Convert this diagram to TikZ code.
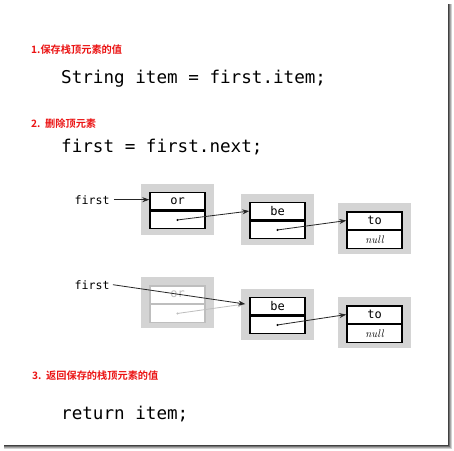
\documentclass[tikz,border=0pt]{standalone}
\usepackage{fontspec}
\setmonofont{DejaVu Sans Mono}
\newfontfamily\cjk{Noto Sans CJK SC Bold}
\usetikzlibrary{arrows.meta,calc}
\definecolor{boxgrey}{RGB}{212,212,212}
\definecolor{fadeline}{RGB}{190,190,190}
\definecolor{stepred}{RGB}{235,20,20}
\newcommand{\nulltxt}{{\rmfamily\itshape\fontsize{11}{12}\selectfont null}}
\tikzset{
  steplabel/.style={anchor=base west,inner sep=0pt,text=stepred,font=\cjk\fontsize{10.2}{12}\selectfont},
  codeline/.style={anchor=base west,inner sep=0pt,font=\ttfamily\fontsize{17.6}{20}\selectfont},
  varlabel/.style={anchor=base west,inner sep=0pt,font=\ttfamily\fontsize{11.6}{13}\selectfont},
  greybg/.style={fill=boxgrey,draw=none,minimum width=73pt,minimum height=51pt,inner sep=0pt},
  cellbox/.style={draw=black,line width=1.4pt,fill=white,minimum width=55pt,minimum height=17.5pt,inner sep=0pt,font=\ttfamily\fontsize{12}{14}\selectfont},
  fadecell/.style={cellbox,draw=fadeline,text=fadeline},
  ptr/.style={-{Stealth[length=7pt,width=5pt]},line width=0.8pt,black!85},
  fadeptr/.style={ptr,fadeline},
  dotmark/.style={circle,fill=black,inner sep=0pt,minimum size=2.4pt},
}
% \mklistnode{name}{cx}{cy}{text}{cellstyle}{lowertext}
\newcommand{\mklistnode}[6]{%
  \node[greybg] (#1-bg) at (#2,#3+-1.5) {};
  \node[#5,anchor=south] (#1-u) at (#2,#3) {#4};
  \node[#5,anchor=north] (#1-l) at (#2,#3) {#6};
  \coordinate (#1-d) at (#1-l.center);
}
\begin{document}
\begin{tikzpicture}[x=1pt,y=-1pt]
\useasboundingbox (0,0) rectangle (454,450);
\fill[white] (0,0) rectangle (454,450);
% frame shadow
\foreach \i/\c in {0/75,1/55,2/35,3/18}{
  \draw[black!\c,line width=1pt] (448.5+\i,4) -- (448.5+\i,446+\i);
  \draw[black!\c,line width=1pt] (4,445.5+\i) -- (448.5+\i,445.5+\i);
}
% texts
\node[steplabel] (s1) at (31,53) {1.保存栈顶元素的值};
\node[codeline] (c1) at (61,83) {String item = first.item;};
\node[steplabel] (s2) at (31,127) {2.\ \ 删除顶元素};
\node[codeline] (c2) at (61,152) {first = first.next;};
\node[steplabel] (s3) at (32,379) {3.\ \ 返回保存的栈顶元素的值};
\node[codeline] (c3) at (61,419) {return item;};
% top row
\mklistnode{a1}{177.5}{210.5}{or}{cellbox}{}
\mklistnode{b1}{277.5}{220.5}{be}{cellbox}{}
\mklistnode{t1}{374.5}{230}{to}{cellbox}{\nulltxt}
\node[varlabel] (f1) at (74.5,204) {first};
\coordinate (f1s) at ($(f1.east)+(4,0)$);
\draw[ptr] (f1s) -- (f1s -| a1-u.west);
\node[dotmark] (a1dot) at (a1-d) {};
\node[dotmark] (b1dot) at (b1-d) {};
\draw[ptr] (a1dot.center) -- (b1-u.west);
\draw[ptr] (b1dot.center) -- (t1-u.west);
% bottom row
\mklistnode{a2}{177.5}{304}{or}{fadecell}{}
\mklistnode{b2}{277.5}{315.5}{be}{cellbox}{}
\mklistnode{t2}{374.5}{324}{to}{cellbox}{\nulltxt}
\node[varlabel] (f2) at (74.5,289) {first};
\node[circle,fill=fadeline,inner sep=0pt,minimum size=2.4pt] (a2dot) at (a2-d) {};
\draw[fadeptr] (a2dot.center) -- ($(b2-u.west)+(-5,-2)$);
\draw[ptr] ($(f2.east)+(3,0)$) -- ($(b2-u.west)+(-4,-2)$);
\node[dotmark] (b2dot) at (b2-d) {};
\draw[ptr] (b2dot.center) -- (t2-u.west);
\end{tikzpicture}
\end{document}
